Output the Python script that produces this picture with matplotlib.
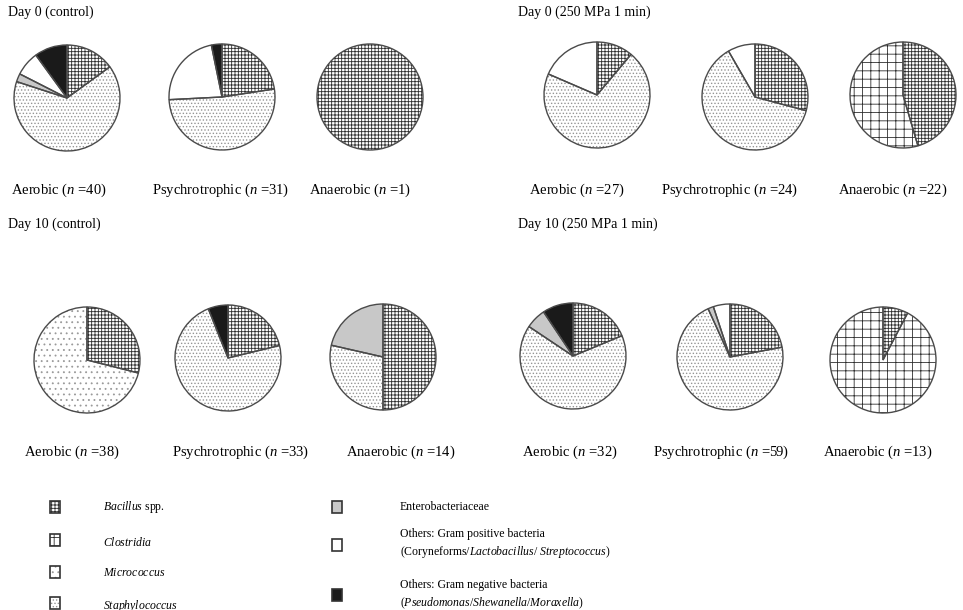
import matplotlib
matplotlib.use("Agg")
import matplotlib.pyplot as plt
from matplotlib.patches import Rectangle

plt.rcParams['font.family'] = ['Liberation Serif', 'DejaVu Serif']
plt.rcParams['mathtext.fontset'] = 'custom'
plt.rcParams['mathtext.rm'] = 'Liberation Serif'
plt.rcParams['mathtext.it'] = 'Liberation Serif:italic'
plt.rcParams['hatch.linewidth'] = 0.6

W, H = 963, 610

# bacterial groups, in the order they are stacked in every pie
groups = ['Bacillus', 'Clostridia', 'Micrococcus', 'Staphylococcus',
          'Enterobacteriaceae', 'Gram positive', 'Gram negative']

# isolate counts per group: Bacillus, Clostridia, Micrococcus, Staphylococcus,
# Enterobacteriaceae, other Gram+, other Gram-
d0_ctrl_aerobic = [6, 0, 0, 26, 1, 3, 4]
d0_ctrl_psychro = [7, 0, 0, 16, 0, 7, 1]
d0_ctrl_anaerobic = [1, 0, 0, 0, 0, 0, 0]
d0_hpp_aerobic = [3, 0, 0, 19, 0, 5, 0]
d0_hpp_psychro = [7, 0, 0, 15, 0, 2, 0]
d0_hpp_anaerobic = [10, 12, 0, 0, 0, 0, 0]
d10_ctrl_aerobic = [11, 0, 27, 0, 0, 0, 0]
d10_ctrl_psychro = [7, 0, 0, 24, 0, 0, 2]
d10_ctrl_anaerobic = [7, 0, 0, 4, 3, 0, 0]
d10_hpp_aerobic = [6, 0, 0, 21, 2, 0, 3]
d10_hpp_psychro = [13, 0, 0, 42, 1, 3, 0]
d10_hpp_anaerobic = [1, 12, 0, 0, 0, 0, 0]

panel_titles = ['Day 0 (control)', 'Day 0 (250 MPa 1 min)',
                'Day 10 (control)', 'Day 10 (250 MPa 1 min)']

# face colour, hatch, hatch colour for each group
styles = {
    'Bacillus': ('white', '+++++', '#2e2e2e'),
    'Clostridia': ('white', '++', '#2e2e2e'),
    'Micrococcus': ('white', '...', '#9a9a9a'),
    'Staphylococcus': ('white', '.....', '#959595'),
    'Enterobacteriaceae': ('#c8c8c8', '', '#c8c8c8'),
    'Gram positive': ('white', '', 'white'),
    'Gram negative': ('#1a1a1a', '', '#1a1a1a'),
}

fig = plt.figure(figsize=(W / 100, H / 100), dpi=100)
bg = fig.add_axes([0, 0, 1, 1])
bg.set_xlim(0, W)
bg.set_ylim(H, 0)
bg.axis('off')

R = 53


def draw_pie(counts, cx, cy, label, lx, ly):
    pad = 1.03
    ax = fig.add_axes([(cx - R * pad) / W, 1 - (cy + R * pad) / H,
                       2 * R * pad / W, 2 * R * pad / H])
    vals = [v for v in counts if v > 0]
    names = [g for g, v in zip(groups, counts) if v > 0]
    face = [styles[g][0] for g in names]
    # hatched fill first, outlines drawn on top
    wedges, _ = ax.pie(vals, colors=face, startangle=90, counterclock=False,
                       wedgeprops=dict(linewidth=0))
    for w, g in zip(wedges, names):
        w.set_hatch(styles[g][1])
        w.set_edgecolor(styles[g][2])
        w.set_linewidth(0)
    ax.pie(vals, colors=['none'] * len(vals), startangle=90, counterclock=False,
           wedgeprops=dict(edgecolor='#4a4a4a', linewidth=1.0))
    ax.set_xlim(-pad, pad)
    ax.set_ylim(-pad, pad)
    ax.axis('off')
    bg.text(lx, ly, label, fontsize=10.5, ha='center', va='center')


def n_label(name, counts):
    return f"{name} ($n$ ={sum(counts)})"


draw_pie(d0_ctrl_aerobic, 67, 98, n_label('Aerobic', d0_ctrl_aerobic), 59, 190)
draw_pie(d0_ctrl_psychro, 222, 97, n_label('Psychrotrophic', d0_ctrl_psychro), 221, 190)
draw_pie(d0_ctrl_anaerobic, 370, 97, n_label('Anaerobic', d0_ctrl_anaerobic), 360, 190)
draw_pie(d0_hpp_aerobic, 597, 95, n_label('Aerobic', d0_hpp_aerobic), 577, 190)
draw_pie(d0_hpp_psychro, 755, 97, n_label('Psychrotrophic', d0_hpp_psychro), 730, 190)
draw_pie(d0_hpp_anaerobic, 903, 95, n_label('Anaerobic', d0_hpp_anaerobic), 893, 190)

draw_pie(d10_ctrl_aerobic, 87, 360, n_label('Aerobic', d10_ctrl_aerobic), 72, 452)
draw_pie(d10_ctrl_psychro, 228, 358, n_label('Psychrotrophic', d10_ctrl_psychro), 241, 452)
draw_pie(d10_ctrl_anaerobic, 383, 357, n_label('Anaerobic', d10_ctrl_anaerobic), 401, 452)
draw_pie(d10_hpp_aerobic, 573, 356, n_label('Aerobic', d10_hpp_aerobic), 570, 452)
draw_pie(d10_hpp_psychro, 730, 357, n_label('Psychrotrophic', d10_hpp_psychro), 721, 452)
draw_pie(d10_hpp_anaerobic, 883, 360, n_label('Anaerobic', d10_hpp_anaerobic), 878, 452)

for title, (tx, ty) in zip(panel_titles, [(8, 12), (518, 12), (8, 224), (518, 224)]):
    bg.text(tx, ty, title, fontsize=10, ha='left', va='center')

# legend
legend_items = [
    ('Bacillus', 55, 507, r'$\mathit{Bacillus}$ spp.', 103, [507]),
    ('Clostridia', 55, 540, r'$\mathit{Clostridia}$', 103, [542]),
    ('Micrococcus', 55, 572, r'$\mathit{Micrococcus}$', 103, [573]),
    ('Staphylococcus', 55, 603, r'$\mathit{Staphylococcus}$', 103, [606]),
    ('Enterobacteriaceae', 337, 507, 'Enterobacteriaceae', 400, [507]),
    ('Gram positive', 337, 545,
     ['Others: Gram positive bacteria',
      r'(Coryneforms/$\mathit{Lactobacillus/\ Streptococcus}$)'], 400, [534, 552]),
    ('Gram negative', 337, 595,
     ['Others: Gram negative bacteria',
      r'($\mathit{Pseudomonas/Shewanella/Moraxella}$)'], 400, [585, 603]),
]
for g, bx, by, text, tx, tys in legend_items:
    face, hatch, hcol = styles[g]
    bg.add_patch(Rectangle((bx - 5, by - 6), 10, 12, facecolor=face,
                           hatch=hatch, edgecolor=hcol, linewidth=0))
    bg.add_patch(Rectangle((bx - 5, by - 6), 10, 12, facecolor='none',
                           edgecolor='#333333', linewidth=1.2))
    lines = text if isinstance(text, list) else [text]
    for line, ty in zip(lines, tys):
        bg.text(tx, ty, line, fontsize=8.5, ha='left', va='center')

fig.savefig('out.png', dpi=100)
